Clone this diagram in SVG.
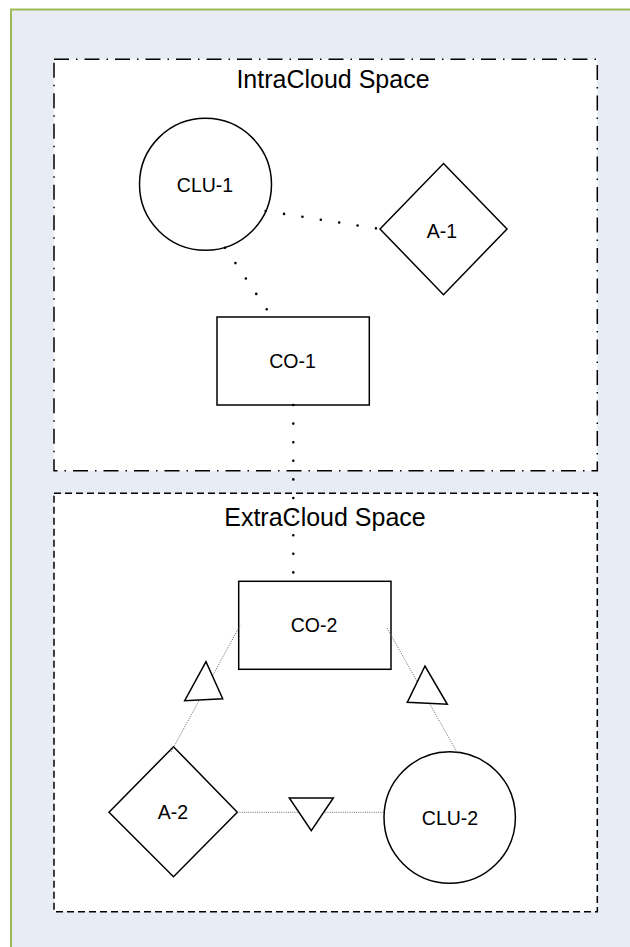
<svg xmlns="http://www.w3.org/2000/svg" width="630" height="947" viewBox="0 0 630 947">
  <style>
    .frame { fill: #E8ECF4; stroke: #9BBB59; stroke-width: 2; }
    .space { fill: #FFFFFF; stroke: #000000; stroke-width: 1.5; }
    .intra { stroke-dasharray: 15 7 1.5 7; }
    .extra { stroke-dasharray: 7 4; }
    .title { font-family: "Liberation Sans", Arial, sans-serif; font-size: 25px; fill: #000; text-anchor: middle; }
    .label { font-family: "Liberation Sans", Arial, sans-serif; font-size: 19.5px; fill: #000; text-anchor: middle; }
    .shape { fill: #FFFFFF; stroke: #000000; stroke-width: 1.5; }
    .heavy { fill: none; stroke: #000000; stroke-width: 2.6; stroke-linecap: round; stroke-dasharray: 0 18.6; }
    .fine { fill: none; stroke: #6E6E6E; stroke-width: 1; stroke-dasharray: 1 1.2; }
    .tri { fill: #FFFFFF; stroke: #000000; stroke-width: 1.5; stroke-linejoin: miter; }
  </style>

  <rect x="0" y="0" width="630" height="947" fill="#FFFFFF"/>
  <rect class="frame" x="11" y="9.5" width="640" height="960"/>

  <g id="intracloud-space">
    <rect class="space intra" x="54" y="59.3" width="543.3" height="411.4"/>
    <text class="title" x="333" y="88">IntraCloud Space</text>
  </g>

  <g id="extracloud-space">
    <rect class="space extra" x="54" y="493.3" width="543.3" height="418.4"/>
    <text class="title" x="325" y="526">ExtraCloud Space</text>
  </g>

  <g id="CLU-1">
    <circle class="shape" cx="205.5" cy="184.3" r="66"/>
    <text class="label" x="205" y="192">CLU-1</text>
  </g>

  <g id="A-1">
    <polygon class="shape" points="443.5,163.5 507,229 443.5,294.7 380,229"/>
    <text class="label" x="442" y="238">A-1</text>
  </g>

  <g id="CO-1">
    <rect class="shape" x="217" y="317" width="152.3" height="88"/>
    <text class="label" x="292.5" y="368">CO-1</text>
  </g>

  <g id="CO-2">
    <rect class="shape" x="238.7" y="581.3" width="152.3" height="88"/>
    <text class="label" x="314" y="632">CO-2</text>
  </g>

  <g id="A-2">
    <polygon class="shape" points="173.5,746.7 237.3,812.3 173.5,876.7 109,812.3"/>
    <text class="label" x="173" y="819">A-2</text>
  </g>

  <g id="CLU-2">
    <circle class="shape" cx="449.7" cy="817.5" r="65.7"/>
    <text class="label" x="450" y="825">CLU-2</text>
  </g>

  <g id="connectors">
    <line class="heavy" x1="265.7" y1="211" x2="380" y2="229"/>
    <line class="heavy" x1="225" y1="247.7" x2="271.9" y2="317"/>
    <line class="heavy" x1="293.3" y1="405" x2="293.3" y2="581.3"/>
    <line class="fine" x1="240" y1="625.5" x2="171" y2="752"/>
    <line class="fine" x1="387" y1="628" x2="458" y2="754"/>
    <line class="fine" x1="237.3" y1="812.3" x2="384" y2="812.3"/>
    <polygon class="tri" points="206,661.7 184.7,700.7 222.7,698.7"/>
    <polygon class="tri" points="425,666 407.3,702.3 447.3,704.3"/>
    <polygon class="tri" points="289.3,798 333.3,798 311.3,830.7"/>
  </g>
</svg>
